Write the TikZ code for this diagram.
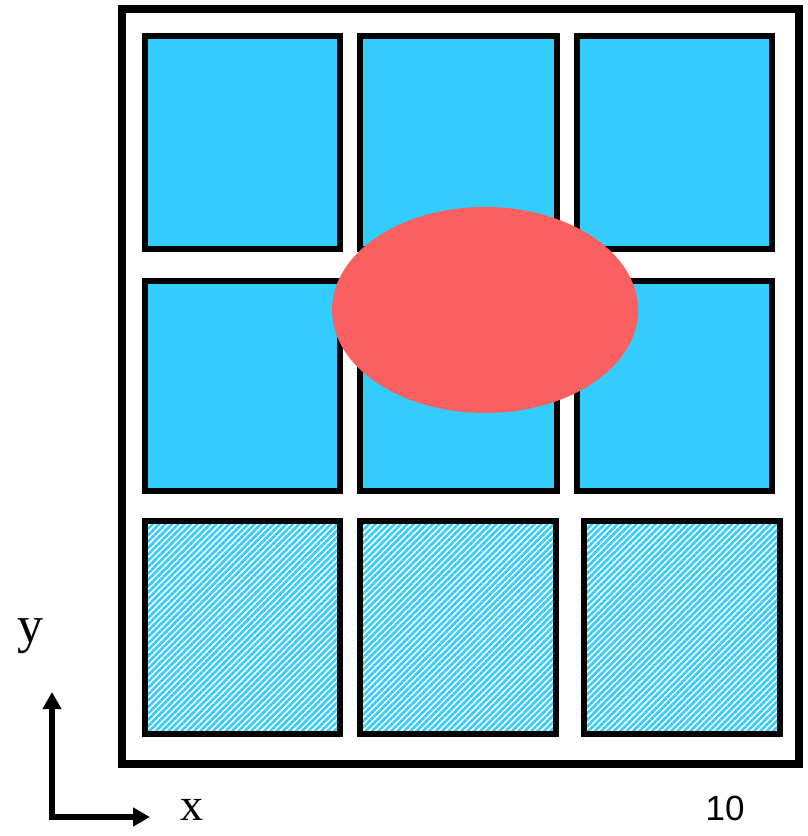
\documentclass[tikz,border=0pt]{standalone}
\usepackage{fontspec}
\setmainfont{Liberation Serif}
\newfontfamily\labelfont{Liberation Sans}
\usepackage{tikz}
\usetikzlibrary{arrows.meta, patterns.meta}
\definecolor{cellblue}{RGB}{51, 204, 255}
\definecolor{spotred}{RGB}{250, 96, 96}
\tikzset{
    cell/.style={draw=black, line width=6pt, fill=cellblue},
    hatchcell/.style={draw=black, line width=6pt,
        pattern={Lines[angle=45, distance=4.5pt, line width=2.6pt]},
        pattern color=cellblue},
    axis/.style={line width=5.5pt, -{Triangle[length=17pt, width=18pt]}}
}

\begin{document}
\begin{tikzpicture}[x=1pt, y=-1pt]
    \useasboundingbox (0,0) rectangle (808,836);
    % outer frame
    \draw[line width=8pt] (122,9) rectangle (799,764);
    % top two rows of plain cells
    \foreach \ya/\yb in {36/249, 281/491}
    {
        \foreach \xa/\xb in {145/340, 360/557, 577/772}
        {
            \draw[cell] (\xa,\ya) rectangle (\xb,\yb);
        }
    }
    % bottom row, hatched
    \foreach \xa/\xb in {145/340, 360/556, 584/780}
    {
        \draw[hatchcell] (\xa,521) rectangle (\xb,734);
    }
    % red spot over the middle
    \fill[spotred] (485,310) ellipse [x radius=153, y radius=103];
    % axes
    \coordinate (origin) at (52,817);
    \coordinate (yend) at (52,692);
    \coordinate (xend) at (150,817);
    \draw[axis] (52,819.5) -- (yend);
    \draw[axis] (origin) -- (xend);
    \node[font=\fontsize{52}{52}\selectfont] (ylabel) at (30,636) {y};
    \node[font=\fontsize{46}{46}\selectfont, inner sep=0pt] (xlabel) at (192,810) {x};
    \node[font=\labelfont\fontsize{35}{35}\selectfont] (pagenum) at (725,808) {10};
\end{tikzpicture}
\end{document}
